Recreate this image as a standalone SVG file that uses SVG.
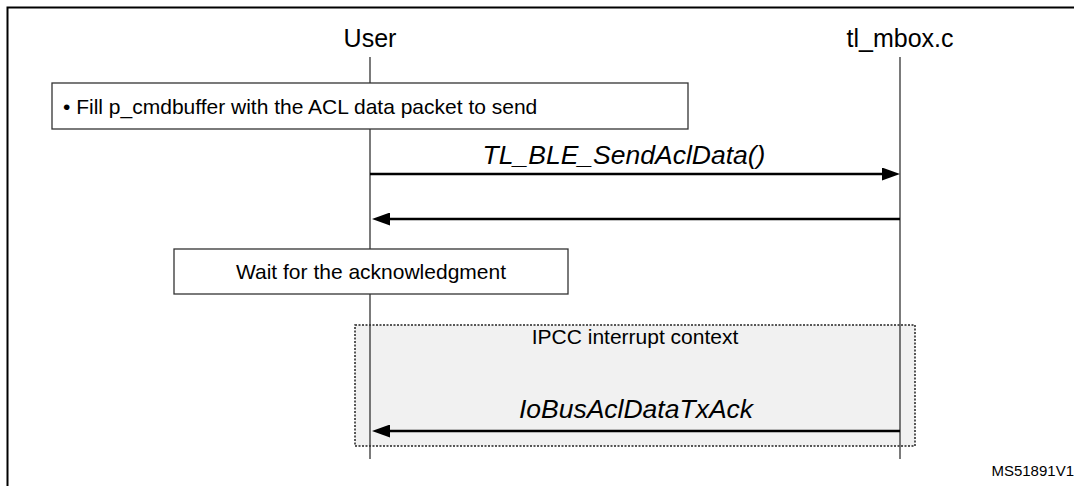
<svg xmlns="http://www.w3.org/2000/svg" width="1074" height="486" viewBox="0 0 1074 486">
<style>
.t{font-family:"Liberation Sans",Arial,sans-serif;fill:#000}
.lab{font-size:25px;text-anchor:middle}
.box{fill:#fff;stroke:#333;stroke-width:1.3}
.bt{font-size:21px}
.msg{font-size:26.5px;font-style:italic;text-anchor:middle}
.life{stroke:#333;stroke-width:1.3;fill:none}
.arr{stroke:#000;stroke-width:2.5;fill:none}
</style>
<defs>
<marker id="ah" viewBox="0 0 18 13" refX="2" refY="6.5" markerWidth="18" markerHeight="13" markerUnits="userSpaceOnUse" orient="auto">
<path d="M0,0 L18,6.5 L0,13 z" fill="#000"/>
</marker>
</defs>
<rect width="1074" height="486" fill="#fff"/>
<path d="M7.5,486 V7.5 H1074" fill="none" stroke="#000" stroke-width="2"/>
<g id="context">
<rect x="355" y="325" width="560" height="121" fill="#f1f1f1" stroke="#222" stroke-width="1.5" stroke-dasharray="2,1.5"/>
<text class="t bt" x="635" y="344" text-anchor="middle">IPCC interrupt context</text>
</g>
<g id="user">
<text class="t lab" x="370" y="47">User</text>
<line class="life" x1="370" y1="57" x2="370" y2="459"/>
</g>
<g id="tlmbox">
<text class="t lab" x="900" y="47">tl_mbox.c</text>
<line class="life" x1="900" y1="57" x2="900" y2="459"/>
</g>
<g id="fill">
<rect class="box" x="52" y="83" width="636" height="46"/>
<text class="t bt" x="63" y="113.5">• Fill p_cmdbuffer with the ACL data packet to send</text>
</g>
<g id="wait">
<rect class="box" x="174" y="249" width="394" height="45"/>
<text class="t bt" x="371" y="279" text-anchor="middle">Wait for the acknowledgment</text>
</g>
<g id="connectors">
<line class="arr" x1="370" y1="174" x2="884" y2="174" marker-end="url(#ah)"/>
<text class="t msg" x="624" y="164" font-size="28">TL_BLE_SendAclData()</text>
<line class="arr" x1="900" y1="219" x2="388" y2="219" marker-end="url(#ah)"/>
<line class="arr" x1="900" y1="431" x2="388" y2="431" marker-end="url(#ah)"/>
<text class="t msg" x="636" y="418">IoBusAclDataTxAck</text>
</g>
<text class="t" x="1074" y="476" font-size="15" text-anchor="end">MS51891V1</text>
</svg>
